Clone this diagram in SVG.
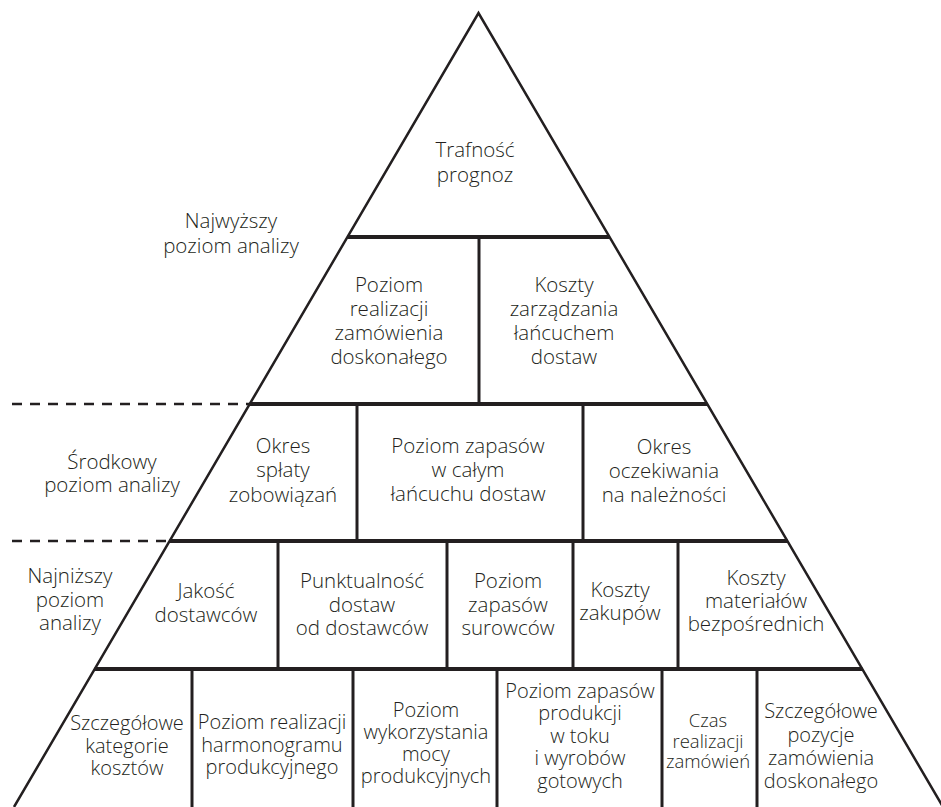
<svg xmlns="http://www.w3.org/2000/svg" width="941" height="807" viewBox="0 0 941 807">
  <style>
    .edge { fill: none; stroke: #231f20; stroke-width: 2.5; stroke-linejoin: miter; }
    .tier { stroke: #231f20; stroke-width: 4; }
    .div { stroke: #231f20; stroke-width: 3; }
    .dash { stroke: #231f20; stroke-width: 2.5; stroke-dasharray: 10 8; }
    text { font-family: "Open Sans", "Noto Sans", "Liberation Sans", sans-serif; font-weight: 300; font-size: 20.5px; fill: #231f20; text-anchor: middle; }
    .base text { font-size: 20px; }
    .base text.sm { font-size: 18.5px; }
  </style>

  <rect width="941" height="807" fill="#ffffff"/>

  <!-- pyramid outline and tier lines -->
  <g id="connectors">
    <path class="edge" d="M14,807 L478.5,13 L943,807"/>
    <line class="tier" x1="347.5" y1="237" x2="609.5" y2="237"/>
    <line class="tier" x1="249.8" y1="404" x2="707.2" y2="404"/>
    <line class="tier" x1="169.6" y1="541" x2="787.4" y2="541"/>
    <line class="tier" x1="94.7" y1="669" x2="862.3" y2="669"/>
    <line class="dash" x1="12" y1="404" x2="249" y2="404"/>
    <line class="dash" x1="12" y1="541" x2="169" y2="541"/>
    <!-- tier 2 -->
    <line class="div" x1="479" y1="237" x2="479" y2="404"/>
    <!-- tier 3 -->
    <line class="div" x1="357" y1="404" x2="357" y2="541"/>
    <line class="div" x1="583" y1="404" x2="583" y2="541"/>
    <!-- tier 4 -->
    <line class="div" x1="278" y1="541" x2="278" y2="669"/>
    <line class="div" x1="447" y1="541" x2="447" y2="669"/>
    <line class="div" x1="573" y1="541" x2="573" y2="669"/>
    <line class="div" x1="678" y1="541" x2="678" y2="669"/>
    <!-- tier 5 -->
    <line class="div" x1="192" y1="669" x2="192" y2="807"/>
    <line class="div" x1="353" y1="669" x2="353" y2="807"/>
    <line class="div" x1="497" y1="669" x2="497" y2="807"/>
    <line class="div" x1="662" y1="669" x2="662" y2="807"/>
    <line class="div" x1="757" y1="669" x2="757" y2="807"/>
  </g>

  <!-- level labels -->
  <g id="level-top"><text x="231" y="228">Najwyższy</text><text x="231" y="253">poziom analizy</text></g>
  <g id="level-mid"><text x="112" y="469">Środkowy</text><text x="112" y="492">poziom analizy</text></g>
  <g id="level-low"><text x="70" y="583">Najniższy</text><text x="70" y="607">poziom</text><text x="70" y="630">analizy</text></g>

  <!-- tier 1 -->
  <g id="n-trafnosc"><text x="475" y="157">Trafność</text><text x="475" y="182">prognoz</text></g>

  <!-- tier 2 -->
  <g id="n-perfect-order">
    <text x="389" y="292">Poziom</text><text x="389" y="316">realizacji</text><text x="389" y="340">zamówienia</text><text x="389" y="364">doskonałego</text>
  </g>
  <g id="n-scm-costs">
    <text x="564" y="292">Koszty</text><text x="564" y="316">zarządzania</text><text x="564" y="340">łańcuchem</text><text x="564" y="364">dostaw</text>
  </g>

  <!-- tier 3 -->
  <g id="n-payables"><text x="283" y="453">Okres</text><text x="283" y="477">spłaty</text><text x="283" y="502">zobowiązań</text></g>
  <g id="n-chain-inventory"><text x="468" y="453">Poziom zapasów</text><text x="468" y="477">w całym</text><text x="468" y="501">łańcuchu dostaw</text></g>
  <g id="n-receivables"><text x="664" y="454">Okres</text><text x="664" y="478">oczekiwania</text><text x="664" y="502">na należności</text></g>

  <!-- tier 4 -->
  <g id="n-supplier-quality"><text x="206" y="598">Jakość</text><text x="206" y="622">dostawców</text></g>
  <g id="n-on-time"><text x="362" y="588">Punktualność</text><text x="362" y="612">dostaw</text><text x="362" y="635">od dostawców</text></g>
  <g id="n-raw-inventory"><text x="508" y="588">Poziom</text><text x="508" y="612">zapasów</text><text x="508" y="635">surowców</text></g>
  <g id="n-purchasing"><text x="620" y="597">Koszty</text><text x="620" y="620">zakupów</text></g>
  <g id="n-materials"><text x="756" y="585">Koszty</text><text x="756" y="608">materiałów</text><text x="756" y="631">bezpośrednich</text></g>

  <!-- tier 5 -->
  <g class="base">
    <g id="n-cost-categories"><text x="127" y="730">Szczegółowe</text><text x="127" y="753">kategorie</text><text x="127" y="775">kosztów</text></g>
    <g id="n-schedule"><text x="272" y="729">Poziom realizacji</text><text x="272" y="752">harmonogramu</text><text x="272" y="774">produkcyjnego</text></g>
    <g id="n-capacity"><text x="426" y="717">Poziom</text><text x="426" y="739">wykorzystania</text><text x="426" y="761">mocy</text><text x="426" y="783">produkcyjnych</text></g>
    <g id="n-wip"><text x="580" y="698">Poziom zapasów</text><text x="580" y="720">produkcji</text><text x="580" y="743">w toku</text><text x="580" y="765">i wyrobów</text><text x="580" y="788">gotowych</text></g>
    <g id="n-lead-time"><text class="sm" x="708" y="727">Czas</text><text class="sm" x="708" y="748">realizacji</text><text class="sm" x="708" y="768">zamówień</text></g>
    <g id="n-order-items"><text x="821" y="718">Szczegółowe</text><text x="821" y="742">pozycje</text><text x="821" y="765">zamówienia</text><text x="821" y="788">doskonałego</text></g>
  </g>
</svg>
